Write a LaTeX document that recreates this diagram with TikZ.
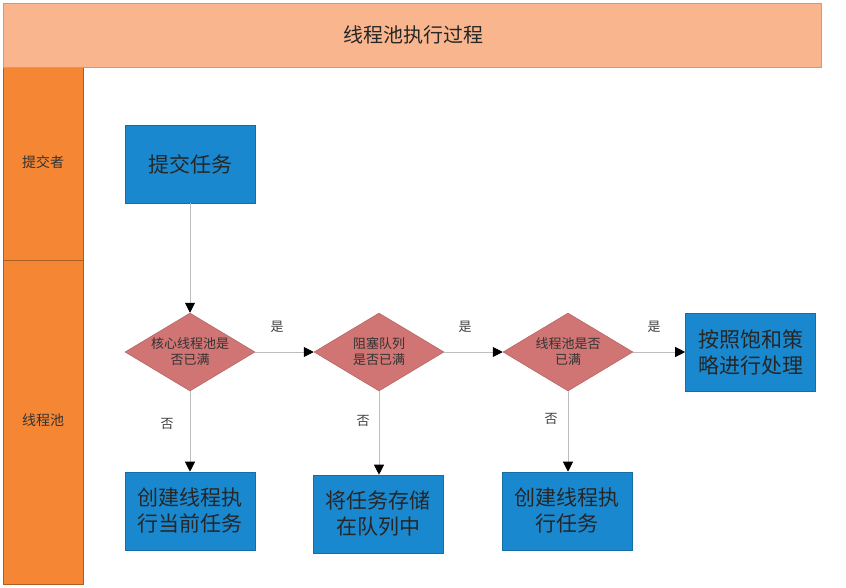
\documentclass[tikz,border=0pt]{standalone}
\usepackage{fontspec}
\setmainfont{Noto Sans CJK SC}
\usetikzlibrary{shapes.geometric,arrows.meta}
\definecolor{peach}{HTML}{F9B68E}
\definecolor{lane}{HTML}{F58634}
\definecolor{boxblue}{HTML}{1A88CE}
\definecolor{rose}{HTML}{D07474}
\definecolor{conn}{HTML}{BDBDBD}
\tikzset{
  procbox/.style={draw=boxblue!80!black, line width=0.6pt, fill=boxblue, minimum width=130pt, minimum height=78pt, inner sep=0pt, align=center, font=\fontsize{21}{26}\selectfont, text=black!85},
  decide/.style={diamond, aspect=1.67, draw=rose!85!black, line width=0.5pt, fill=rose, minimum width=130pt, minimum height=78pt, inner sep=0pt, align=center, font=\fontsize{13}{16}\selectfont, text=black!80},
  conn/.style={draw=conn, line width=0.9pt, -{Triangle[length=10pt,width=10pt,fill=black,color=black]}},
  lbl/.style={font=\fontsize{13}{16}\selectfont, text=black!75},
  lanelbl/.style={font=\fontsize{14}{17}\selectfont, text=black!80}
}
\begin{document}
\begin{tikzpicture}[x=1pt,y=-1pt]
\useasboundingbox (0,0) rectangle (846,587);
\fill[white] (0,0) rectangle (846,587);
% lanes
\filldraw[fill=lane, draw=lane!70!black, line width=0.5pt] (3,67) rectangle (83,260);
\filldraw[fill=lane, draw=lane!70!black, line width=0.5pt] (3,260) rectangle (83,584);
\node[lanelbl] (l1) at (43,162) {提交者};
\node[lanelbl] (l2) at (43,420) {线程池};
% title
\filldraw[fill=peach, draw=black!35, line width=0.6pt] (3,3) rectangle (821,67);
\node[font=\fontsize{20}{24}\selectfont, text=black!85] (title) at (413,35) {线程池执行过程};
% nodes
\node[procbox] (submit) at (190,164) {提交任务};
\node[decide] (d1) at (190,352) {核心线程池是\\否已满};
\node[decide] (d2) at (379,352) {阻塞队列\\是否已满};
\node[decide] (d3) at (568,352) {线程池是否\\已满};
\node[procbox] (reject) at (750.5,352) {按照饱和策\\略进行处理};
\node[procbox] (b1) at (190,511) {创建线程执\\行当前任务};
\node[procbox] (b2) at (378,514) {将任务存储\\在队列中};
\node[procbox] (b3) at (567,511) {创建线程执\\行任务};
% connectors
\draw[conn] (submit.south) -- (d1.north);
\draw[conn] (d1.east) -- (d2.west);
\draw[conn] (d2.east) -- (d3.west);
\draw[conn] (d3.east) -- (reject.west);
\draw[conn] (d1.south) -- (b1.north);
\draw[conn] (d2.south) -- (d2.south |- b2.north);
\draw[conn] (d3.south) -- (d3.south |- b3.north);
% labels
\node[lbl] (y1) at (277,327) {是};
\node[lbl] (y2) at (465,327) {是};
\node[lbl] (y3) at (654,327) {是};
\node[lbl] (n1) at (167,424) {否};
\node[lbl] (n2) at (363,421) {否};
\node[lbl] (n3) at (551,419) {否};
\end{tikzpicture}
\end{document}
